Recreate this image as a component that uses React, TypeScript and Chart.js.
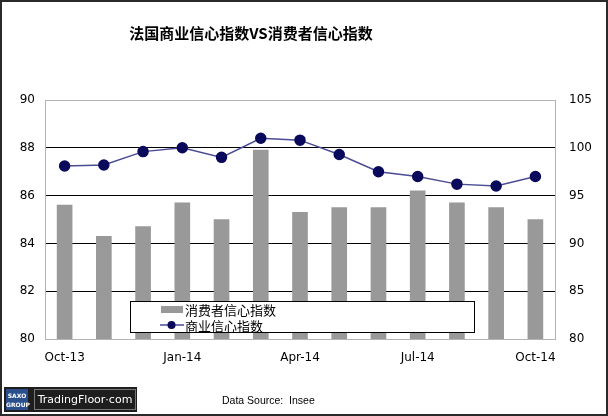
import { useEffect, useRef } from "react";
import { Chart, registerables } from "chart.js";

Chart.register(...registerables);

const months = ["Oct-13", "Nov-13", "Dec-13", "Jan-14", "Feb-14", "Mar-14", "Apr-14", "May-14", "Jun-14", "Jul-14", "Aug-14", "Sep-14", "Oct-14"];
const consumerIdx = [85.6, 84.3, 84.7, 85.7, 85.0, 87.9, 85.3, 85.5, 85.5, 86.2, 85.7, 85.5, 85.0];
const businessIdx = [98.1, 98.2, 99.6, 100.0, 99.0, 101.0, 100.8, 99.3, 97.5, 97.0, 96.2, 96.0, 97.0];
const leftTicks = [80, 82, 84, 86, 88, 90];
const rightTicks = [80, 85, 90, 95, 100, 105];
const seriesNames = ["消费者信心指数", "商业信心指数"];

const AXIS_GRAY = "#b4b4b4";
const BAR_GRAY = "#999999";
const LINE_COLOR = "#4b4b96";
const POINT_COLOR = "#0a0a5c";

// legend box sits inside the plot, over the bars
const boxLegend = {
	id: "boxLegend",
	afterDatasetsDraw(chart) {
		const ctx = chart.ctx;
		ctx.save();
		ctx.fillStyle = "#fff";
		ctx.fillRect(130, 301, 344, 32);
		ctx.strokeStyle = "#000";
		ctx.lineWidth = 1;
		ctx.strokeRect(130.5, 301.5, 344, 31);

		ctx.fillStyle = BAR_GRAY;
		ctx.fillRect(161, 306, 22, 7);

		ctx.strokeStyle = LINE_COLOR;
		ctx.lineWidth = 1.5;
		ctx.beginPath();
		ctx.moveTo(160, 325);
		ctx.lineTo(184, 325);
		ctx.stroke();
		ctx.fillStyle = POINT_COLOR;
		ctx.beginPath();
		ctx.arc(171.5, 325, 4, 0, Math.PI * 2);
		ctx.fill();

		ctx.fillStyle = "#000";
		ctx.font = "13px 'Noto Sans CJK SC'";
		ctx.textBaseline = "middle";
		ctx.fillText(seriesNames[0], 185, 310);
		ctx.fillText(seriesNames[1], 185, 326);
		ctx.restore();
	},
};

const App = () => {
	const chartRef = useRef<HTMLCanvasElement | null>(null);

	useEffect(() => {
		const myChart = new Chart(chartRef.current.getContext("2d"), {
			type: "bar",
			data: {
				labels: months,
				datasets: [
					{
						type: "line",
						label: seriesNames[1],
						data: businessIdx,
						yAxisID: "yR",
						borderColor: LINE_COLOR,
						borderWidth: 1.5,
						pointBackgroundColor: POINT_COLOR,
						pointBorderColor: POINT_COLOR,
						pointRadius: 5,
						tension: 0,
						order: 0,
					},
					{
						type: "bar",
						label: seriesNames[0],
						data: consumerIdx,
						yAxisID: "yL",
						backgroundColor: BAR_GRAY,
						barThickness: 15,
						order: 1,
					},
				],
			},
			plugins: [boxLegend],
			options: {
				responsive: false,
				animation: false,
				layout: { padding: { top: 100, left: 0, right: 0, bottom: 0 } },
				plugins: {
					legend: { display: false },
					tooltip: { enabled: false },
				},
				scales: {
					x: {
						offset: true,
						grid: { display: false },
						border: { color: AXIS_GRAY },
						ticks: {
							autoSkip: false,
							maxRotation: 0,
							padding: 4,
							color: "#000",
							font: { family: "'DejaVu Sans'", size: 12 },
							callback: (v, i) => (i % 3 === 0 ? months[i] : ""),
						},
						afterFit: (s) => {
							s.height = 77;
						},
					},
					yL: {
						position: "left",
						min: 80,
						max: 90,
						afterBuildTicks: (s) => {
							s.ticks = leftTicks.map((v) => ({ value: v }));
						},
						grid: {
							drawTicks: false,
							color: (c) => (c.tick && (c.tick.value === 80 || c.tick.value === 90) ? AXIS_GRAY : "#000"),
						},
						border: { color: AXIS_GRAY },
						ticks: {
							padding: 10,
							color: "#000",
							font: { family: "'DejaVu Sans'", size: 12 },
						},
						afterFit: (s) => {
							s.width = 45;
						},
					},
					yR: {
						position: "right",
						min: 80,
						max: 105,
						afterBuildTicks: (s) => {
							s.ticks = rightTicks.map((v) => ({ value: v }));
						},
						grid: { display: false, drawTicks: false },
						border: { color: AXIS_GRAY },
						ticks: {
							padding: 14,
							color: "#000",
							font: { family: "'DejaVu Sans'", size: 12 },
						},
						afterFit: (s) => {
							s.width = 53;
						},
					},
				},
			},
		});

		return () => {
			myChart.destroy();
		};
	}, []);

	return (
		<div style={{ position: "absolute", left: 0, top: 0, width: 608, height: 416, background: "#fff", overflow: "hidden" }}>
			<canvas ref={chartRef} width={608} height={416} style={{ position: "absolute", left: 0, top: 0, width: 608, height: 416 }} />
			<div
				style={{
					position: "absolute",
					left: 0,
					width: 502,
					top: 22,
					textAlign: "center",
					font: "bold 15px 'Noto Sans CJK SC'",
					color: "#000",
				}}
			>
				法国商业信心指数VS消费者信心指数
			</div>
			<div style={{ position: "absolute", left: 4, top: 387, width: 133, height: 25, background: "#1e1e1e" }}>
				<div
					style={{
						position: "absolute",
						left: 2,
						top: 2,
						width: 22,
						height: 21,
						background: "#2b4f8c",
						color: "#fff",
						font: "bold 6px 'DejaVu Sans'",
						textAlign: "center",
						lineHeight: "9px",
						paddingTop: 2,
						boxSizing: "border-box",
					}}
				>
					SAXO
					<br />
					GROUP
				</div>
				<div
					style={{
						position: "absolute",
						left: 30,
						top: 2,
						width: 100,
						height: 19,
						border: "1px solid #777",
						color: "#fff",
						font: "11px 'DejaVu Sans'",
						lineHeight: "19px",
						textAlign: "center",
					}}
				>
					TradingFloor·com
				</div>
			</div>
			<div style={{ position: "absolute", left: 222, top: 394, font: "10.5px 'Liberation Sans'", color: "#000", whiteSpace: "pre" }}>
				Data Source:  Insee
			</div>
			<div style={{ position: "absolute", left: 0, top: 0, width: 608, height: 416, border: "2px solid #2a2a2a", boxSizing: "border-box", pointerEvents: "none" }} />
		</div>
	);
};

export default App;
